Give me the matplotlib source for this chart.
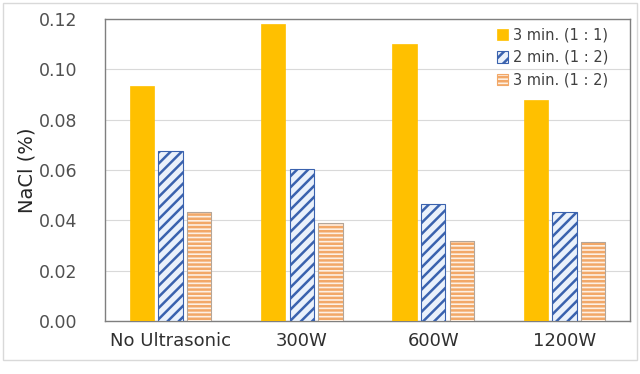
import numpy as np
import matplotlib.pyplot as plt
from matplotlib.patches import Rectangle

plt.rcParams['font.family'] = 'DejaVu Sans'
plt.rcParams['hatch.linewidth'] = 1.8

categories = ["No Ultrasonic", "300W", "600W", "1200W"]
series_labels = ["3 min. (1 : 1)", "2 min. (1 : 2)", "3 min. (1 : 2)"]
vals_3min_11 = [0.0935, 0.118, 0.110, 0.088]
vals_2min_12 = [0.0677, 0.0602, 0.0465, 0.0432]
vals_3min_12 = [0.0434, 0.0388, 0.0318, 0.0312]
yticks = [0.00, 0.02, 0.04, 0.06, 0.08, 0.10, 0.12]

fig = plt.figure(figsize=(6.4, 3.74), dpi=100)
ax = fig.add_axes([105 / 640, 1 - 321 / 374, (630 - 105) / 640, (321 - 19) / 374])

# outer chart frame
fig.patches.append(Rectangle((3 / 640, 1 - 360 / 374), 634 / 640, 357 / 374,
                             transform=fig.transFigure, fill=False,
                             edgecolor="#d9d9d9", linewidth=1.0))

x = np.arange(len(categories))
width = 0.185
step = 0.218

ax.bar(x - step, vals_3min_11, width, color="#FFC000", edgecolor="#FFC000",
       linewidth=0.5, label=series_labels[0], zorder=3)
ax.bar(x, vals_2min_12, width, color="#EAF1FB", edgecolor="#3A62AE",
       hatch="///", linewidth=0.8, label=series_labels[1], zorder=3)
ax.bar(x + step, vals_3min_12, width, color="#FDF0E4", edgecolor="#F2A868",
       hatch="----", linewidth=0.8, label=series_labels[2], zorder=3)
# thin gray outline on the striped bars
ax.bar(x + step, vals_3min_12, width, fill=False, edgecolor="#A6A6A6",
       linewidth=0.6, zorder=4)

ax.set_xlim(-0.5, len(categories) - 0.5)
ax.set_ylim(0, 0.12)
ax.set_yticks(yticks)
ax.set_yticklabels([f"{t:.2f}" for t in yticks], fontsize=12.5, color="#505050")
ax.set_xticks(x)
ax.set_xticklabels(categories, fontsize=13, color="#303030")
ax.tick_params(length=0, pad=8)
ax.tick_params(axis="y", pad=20)
ax.grid(axis="y", color="#d9d9d9", linewidth=0.8, zorder=0)
for s in ax.spines.values():
    s.set_color("#7f7f7f")
    s.set_linewidth(1.0)

ax.set_ylabel("NaCl (%)", fontsize=14, color="#262626")
ax.yaxis.set_label_coords(-0.13, 0.5)

ax.legend(loc="upper right", bbox_to_anchor=(0.978, 1.005), frameon=False,
          fontsize=10.5, handlelength=0.8, handleheight=0.8,
          handletextpad=0.3, labelspacing=0.5, borderpad=0.2,
          labelcolor="#404040")

fig.savefig("out.png", dpi=100)
